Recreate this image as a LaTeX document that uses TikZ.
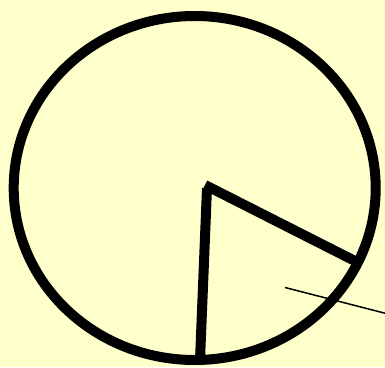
\documentclass[tikz,border=0pt]{standalone}
\definecolor{bg}{HTML}{FFFFCC}
\begin{document}
\begin{tikzpicture}[x=1pt,y=-1pt,
  thickline/.style={line width=10pt,black},
  thinline/.style={line width=1.5pt,black}]
\fill[bg] (0,0) rectangle (385,367);
\useasboundingbox (0,0) rectangle (385,367);
\coordinate (c) at (194.7,188);
\coordinate (o) at (207,188);
\coordinate (b) at (200,360);
\coordinate (r) at (357,262);
\coordinate (t1) at (285,287.5);
\coordinate (t2) at (390,314.5);
\draw[thickline] (c) ellipse [x radius=181, y radius=172];
\draw[thickline] (o) -- (b);
\draw[thickline] ([shift={(-2,-3)}]o) -- (r);
\draw[thinline] (t1) -- (t2);
\end{tikzpicture}
\end{document}
